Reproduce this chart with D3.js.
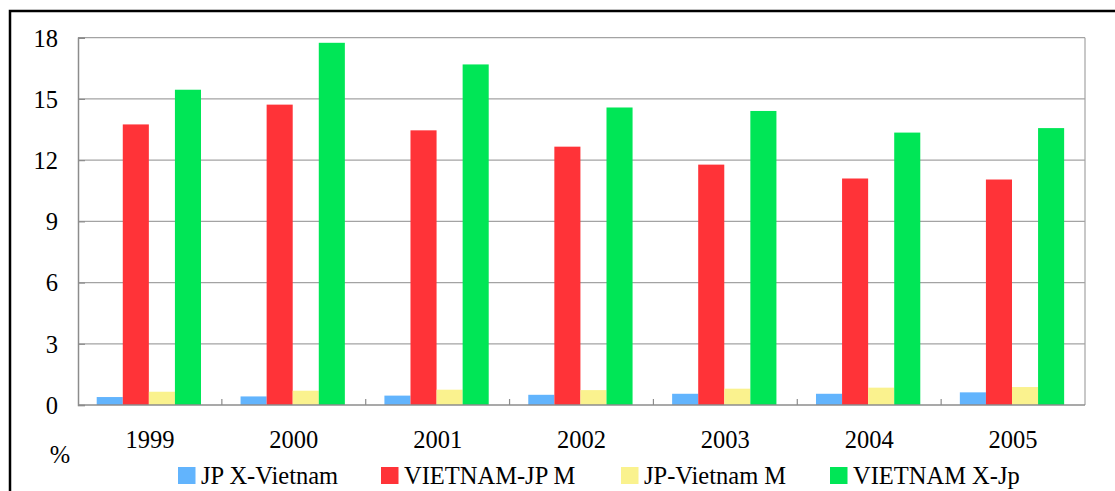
<!DOCTYPE html>
<html>
<head>
<meta charset="utf-8">
<script src="https://cdn.jsdelivr.net/npm/d3@7"></script>
<style>
  html, body { margin: 0; padding: 0; background: #ffffff; }
  svg { display: block; }
  text { font-family: "Liberation Serif", "Times New Roman", serif; fill: #000; }
</style>
</head>
<body>
<svg id="chart" width="1115" height="491"></svg>
<script>
// Trade shares (%) by year
const years = ["1999", "2000", "2001", "2002", "2003", "2004", "2005"];
const seriesNames = ["JP X-Vietnam", "VIETNAM-JP M", "JP-Vietnam M", "VIETNAM X-Jp"];
const jpXVietnam   = [0.39, 0.42, 0.46, 0.50, 0.55, 0.55, 0.62];
const vietnamJpM   = [13.75, 14.72, 13.46, 12.66, 11.78, 11.10, 11.05];
const jpVietnamM   = [0.65, 0.70, 0.75, 0.73, 0.80, 0.85, 0.88];
const vietnamXJp   = [15.45, 17.75, 16.69, 14.58, 14.41, 13.35, 13.57];
const yTicks = [0, 3, 6, 9, 12, 15, 18];
const colors = ["#62b4fd", "#ff3338", "#faf28e", "#00e656"];

const seriesValues = [jpXVietnam, vietnamJpM, jpVietnamM, vietnamXJp];
const fontSize = 24.5;

const svg = d3.select("#chart");
const plot = { left: 78, right: 1085, top: 37.7, bottom: 405 };

// Outer frame
svg.append("rect")
  .attr("x", 10).attr("y", 11)
  .attr("width", 1200).attr("height", 600)
  .attr("fill", "none").attr("stroke", "#000").attr("stroke-width", 2.5);

const x0 = d3.scaleBand().domain(years).range([plot.left, plot.right]).padding(0);
const bw = x0.bandwidth();
const x1 = d3.scaleBand().domain(seriesNames).range([0.13 * bw, 0.855 * bw]).padding(0);
const y = d3.scaleLinear().domain([0, 18]).range([plot.bottom, plot.top]);

// Gridlines
svg.append("g")
  .selectAll("line")
  .data(yTicks.filter(t => t > 0))
  .join("line")
  .attr("x1", plot.left).attr("x2", plot.right)
  .attr("y1", d => y(d)).attr("y2", d => y(d))
  .attr("stroke", "#a3a3a3").attr("stroke-width", 1.2);

// Right border
svg.append("line")
  .attr("x1", plot.right).attr("x2", plot.right)
  .attr("y1", plot.top).attr("y2", plot.bottom)
  .attr("stroke", "#a3a3a3").attr("stroke-width", 1.2);

// Bars
const groups = svg.append("g")
  .selectAll("g")
  .data(years)
  .join("g")
  .attr("transform", d => `translate(${x0(d)},0)`);

groups.selectAll("rect")
  .data((d, i) => seriesNames.map((s, k) => ({ s, k, v: seriesValues[k][i] })))
  .join("rect")
  .attr("x", d => x1(d.s))
  .attr("width", x1.bandwidth())
  .attr("y", d => y(d.v))
  .attr("height", d => y(0) - y(d.v))
  .attr("fill", d => colors[d.k]);

// Y axis
const yAxis = svg.append("g")
  .attr("transform", `translate(${plot.left},0)`)
  .call(d3.axisLeft(y).tickValues(yTicks).tickSize(-7).tickPadding(20).tickFormat(d3.format("d")));
yAxis.select(".domain").attr("stroke", "#8c8c8c").attr("stroke-width", 1.5);
yAxis.selectAll(".tick line").attr("stroke", "#8c8c8c").attr("stroke-width", 1.2);
yAxis.selectAll(".tick text")
  .attr("font-size", fontSize)
  .attr("font-family", "Liberation Serif, Times New Roman, serif")
  .attr("dy", "0.34em");

// X axis with boundary ticks
const xAxis = svg.append("g")
  .attr("transform", `translate(0,${plot.bottom})`);
xAxis.append("line")
  .attr("x1", plot.left).attr("x2", plot.right)
  .attr("stroke", "#8c8c8c").attr("stroke-width", 1.6);
xAxis.selectAll("line.tick")
  .data(years.slice(1))
  .join("line")
  .attr("class", "tick")
  .attr("x1", d => x0(d)).attr("x2", d => x0(d))
  .attr("y1", 0).attr("y2", -6)
  .attr("stroke", "#8c8c8c").attr("stroke-width", 1.2);
xAxis.selectAll("text")
  .data(years)
  .join("text")
  .attr("x", d => x0(d) + bw / 2)
  .attr("y", 42.5)
  .attr("text-anchor", "middle")
  .attr("font-size", fontSize)
  .text(d => d);

// Unit label
svg.append("text")
  .attr("x", 60).attr("y", 463)
  .attr("text-anchor", "middle")
  .attr("font-size", fontSize)
  .text("%");

// Legend
const legendX = [178, 381, 621, 830];
const legend = svg.append("g")
  .selectAll("g")
  .data(seriesNames)
  .join("g")
  .attr("transform", (d, i) => `translate(${legendX[i]},467)`);
legend.append("rect")
  .attr("width", 17.5).attr("height", 17)
  .attr("fill", (d, i) => colors[i]);
legend.append("text")
  .attr("x", 23).attr("y", 16.5)
  .attr("font-size", fontSize)
  .text(d => d);
</script>
</body>
</html>
